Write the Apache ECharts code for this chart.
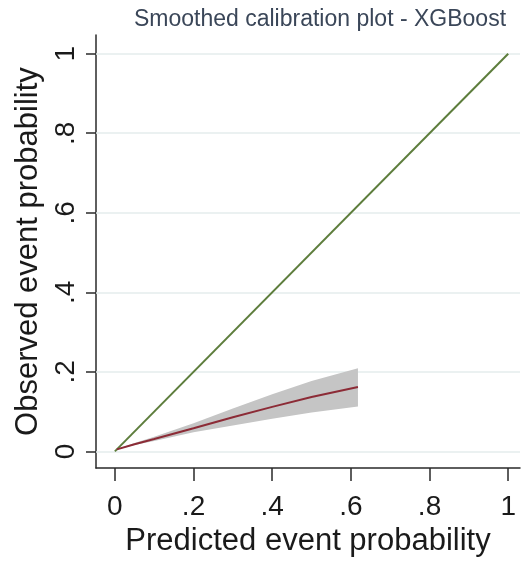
<!DOCTYPE html>
<html>
<head>
<meta charset="utf-8">
<script src="https://cdn.jsdelivr.net/npm/echarts@6/dist/echarts.min.js"></script>
<style>
  html, body { margin: 0; padding: 0; background: #fff; }
  #chart { width: 525px; height: 562px; }
</style>
</head>
<body>
<div id="chart"></div>
<script>
// Tick positions and their printed labels
const xTicks = [0, 0.2, 0.4, 0.6, 0.8, 1];
const xTickLabels = ['0', '.2', '.4', '.6', '.8', '1'];
const yTicks = [0, 0.2, 0.4, 0.6, 0.8, 1];
const yTickLabels = ['0', '.2', '.4', '.6', '.8', '1'];

// Perfect-calibration reference line
const refX = [0, 1];
const refY = [0, 1];

// Smoothed observed vs predicted curve
const smoothX = [0.005, 0.05, 0.1, 0.2, 0.3, 0.4, 0.5, 0.618];
const smoothY = [0.005, 0.018, 0.031, 0.058, 0.086, 0.112, 0.137, 0.162];

// Confidence band around the smoothed curve
const bandLower = [0.004, 0.016, 0.026, 0.048, 0.065, 0.082, 0.098, 0.113];
const bandUpper = [0.006, 0.021, 0.037, 0.071, 0.108, 0.144, 0.177, 0.209];

const FONT = "'Liberation Sans', Arial, sans-serif";

function labelFor(ticks, labels) {
  return function (v) {
    const i = ticks.findIndex(t => Math.abs(t - v) < 1e-9);
    return i >= 0 ? labels[i] : '';
  };
}

const chart = echarts.init(document.getElementById('chart'), null, { renderer: 'canvas' });

chart.setOption({
  animation: false,
  backgroundColor: '#ffffff',
  title: {
    text: 'Smoothed calibration plot - XGBoost',
    left: 315,
    top: 3,
    textAlign: 'center',
    textStyle: { fontFamily: FONT, fontSize: 23, fontWeight: 'normal', color: '#3a4658' }
  },
  grid: { left: 96, right: 5, top: 35, bottom: 88, containLabel: false },
  xAxis: {
    type: 'value',
    min: -0.048,
    max: 1.03,
    name: 'Predicted event probability',
    nameLocation: 'middle',
    nameGap: 53,
    nameTextStyle: { fontFamily: FONT, fontSize: 31, color: '#1a1a1a' },
    axisLine: { show: true, onZero: false, lineStyle: { color: '#2a2a2a', width: 1.5 } },
    axisTick: { show: true, customValues: xTicks, length: 13, lineStyle: { color: '#2a2a2a', width: 1.5 } },
    axisLabel: {
      customValues: xTicks,
      formatter: labelFor(xTicks, xTickLabels),
      fontFamily: FONT, fontSize: 28, color: '#1a1a1a', margin: 25
    },
    splitLine: { show: false }
  },
  yAxis: {
    type: 'value',
    min: -0.042,
    max: 1.047,
    name: 'Observed event probability',
    nameLocation: 'middle',
    nameGap: 46,
    nameTextStyle: { fontFamily: FONT, fontSize: 31, color: '#1a1a1a' },
    axisLine: { show: true, onZero: false, lineStyle: { color: '#2a2a2a', width: 1.5 } },
    axisTick: { show: true, customValues: yTicks, length: 10, lineStyle: { color: '#2a2a2a', width: 1.5 } },
    axisLabel: {
      customValues: yTicks,
      formatter: labelFor(yTicks, yTickLabels),
      rotate: 90,
      fontFamily: FONT, fontSize: 28, color: '#1a1a1a', margin: 16
    },
    splitLine: { show: false }
  },
  series: [
    {
      // horizontal grid lines at each y tick
      type: 'line',
      data: [],
      silent: true,
      markLine: {
        silent: true,
        symbol: ['none', 'none'],
        label: { show: false },
        z: 1,
        lineStyle: { type: 'solid', color: '#e5ecec', width: 1.5 },
        data: yTicks.map(v => ({ yAxis: v }))
      }
    },
    {
      type: 'custom',
      z: 3,
      silent: true,
      data: smoothX.map((x, i) => [x, bandLower[i], bandUpper[i]]),
      encode: { x: 0, y: [1, 2] },
      renderItem: function (params, api) {
        if (params.dataIndex !== 0) return null;
        const top = smoothX.map((x, i) => api.coord([x, bandUpper[i]]));
        const bottom = smoothX.map((x, i) => api.coord([x, bandLower[i]])).reverse();
        return {
          type: 'polygon',
          shape: { points: top.concat(bottom) },
          style: { fill: '#c5c5c5' }
        };
      }
    },
    {
      type: 'line',
      z: 4,
      data: refX.map((x, i) => [x, refY[i]]),
      showSymbol: false,
      lineStyle: { color: '#5d7d3c', width: 2 }
    },
    {
      type: 'line',
      z: 5,
      data: smoothX.map((x, i) => [x, smoothY[i]]),
      showSymbol: false,
      smooth: false,
      lineStyle: { color: '#8c2b36', width: 2 }
    }
  ]
});
</script>
</body>
</html>
